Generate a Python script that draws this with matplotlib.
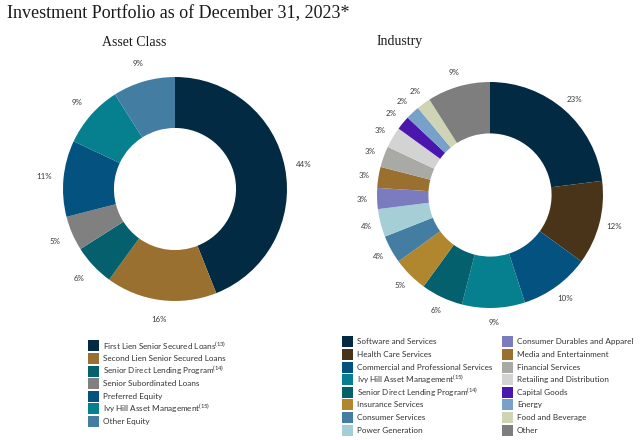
import matplotlib
matplotlib.use("Agg")
import matplotlib.pyplot as plt
from matplotlib.patches import Rectangle

# --- Data ---
ASSET_LABELS = [
    'First Lien Senior Secured Loans$^{(13)}$',
    'Second Lien Senior Secured Loans',
    'Senior Direct Lending Program$^{(14)}$',
    'Senior Subordinated Loans',
    'Preferred Equity',
    'Ivy Hill Asset Management$^{(15)}$',
    'Other Equity',
]
ASSET_VALUES = [44, 16, 6, 5, 11, 9, 9]
ASSET_COLORS = ['#022a42', '#9a7030', '#03606c', '#808080', '#04527f', '#067f8f', '#437da2']

INDUSTRY_LABELS = [
    'Software and Services',
    'Health Care Services',
    'Commercial and Professional Services',
    'Ivy Hill Asset Management$^{(15)}$',
    'Senior Direct Lending Program$^{(14)}$',
    'Insurance Services',
    'Consumer Services',
    'Power Generation',
    'Consumer Durables and Apparel',
    'Media and Entertainment',
    'Financial Services',
    'Retailing and Distribution',
    'Capital Goods',
    'Energy',
    'Food and Beverage',
    'Other',
]
INDUSTRY_VALUES = [23, 12, 10, 9, 6, 5, 4, 4, 3, 3, 3, 3, 2, 2, 2, 9]
INDUSTRY_COLORS = ['#022a42', '#4a3419', '#04527f', '#067f8f', '#03606c', '#b0862e',
                   '#437da2', '#a5ced6', '#7b7bbf', '#9a7030', '#a9a9a5', '#d3d3d3',
                   '#4b16ad', '#77a1c9', '#cfd4b4', '#7e7e7e']

plt.rcParams['mathtext.default'] = 'regular'
W, H = 640, 440
SANS = 'Lato'


def px_axes(fig, cx, cy, r):
    # square axes in pixel coords (top-left origin)
    return fig.add_axes([(cx - r) / W, (H - cy - r) / H, 2 * r / W, 2 * r / H])


def donut(ax, values, colors, dist):
    ax.pie(values, colors=colors, startangle=90, counterclock=False,
           autopct=lambda p: f'{p:.0f}%', pctdistance=dist,
           wedgeprops=dict(width=0.455, linewidth=0),
           textprops=dict(fontsize=5.7, color='#3a3a3a', family=SANS))
    ax.set_xlim(-1, 1)
    ax.set_ylim(-1, 1)
    ax.set_aspect('equal')
    ax.axis('off')


def legend(fig, x, y0, labels, colors, step=12.65):
    for i, (lab, col) in enumerate(zip(labels, colors)):
        y = y0 + i * step
        fig.patches.append(Rectangle((x / W, 1 - (y + 5.5) / H), 11 / W, 11 / H,
                                     transform=fig.transFigure, facecolor=col,
                                     edgecolor='none'))
        fig.text((x + 15) / W, 1 - y / H, lab, fontsize=5.9, family=SANS,
                 color='#333333', va='center', ha='left')


fig = plt.figure(figsize=(6.4, 4.4), dpi=100)

fig.text(7 / W, 1 - 14 / H, 'Investment Portfolio as of December 31, 2023*',
         fontsize=13, family='Liberation Serif', color='#1a1a1a', va='center')
fig.text(134 / W, 1 - 42 / H, 'Asset Class', fontsize=10, family='Liberation Serif',
         color='#1a1a1a', va='center', ha='center')
fig.text(400 / W, 1 - 42 / H, 'Industry', fontsize=10, family='Liberation Serif',
         color='#1a1a1a', va='center', ha='center')

ax1 = px_axes(fig, 175, 189, 112)
donut(ax1, ASSET_VALUES, ASSET_COLORS, 1.17)

ax2 = px_axes(fig, 490, 195, 113)
donut(ax2, INDUSTRY_VALUES, INDUSTRY_COLORS, 1.13)

legend(fig, 88, 345.7, ASSET_LABELS, ASSET_COLORS)
legend(fig, 342, 341.7, INDUSTRY_LABELS[:8], INDUSTRY_COLORS[:8])
legend(fig, 502, 341.7, INDUSTRY_LABELS[8:], INDUSTRY_COLORS[8:])

fig.savefig('out.png', dpi=100)
